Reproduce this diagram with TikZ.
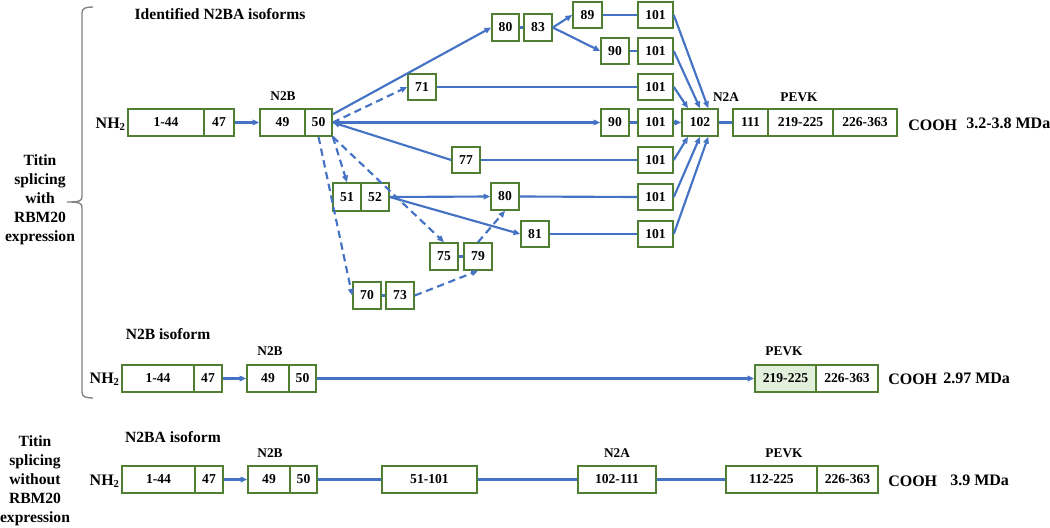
\documentclass[tikz,border=0pt]{standalone}
\usepackage{fontspec}
\setmainfont{Liberation Serif}
\usetikzlibrary{arrows.meta}
\definecolor{lblue}{HTML}{4472C4}
\definecolor{bgreen}{HTML}{507E32}
\definecolor{lgreen}{HTML}{E2EFDA}
\definecolor{brgray}{HTML}{808080}
\newcommand\exbox[7][]{\node[box,#1,minimum width={(#4-#3)*0.75pt},minimum height={(#6-#5)*0.75pt}] (#2) at ({(#3+#4)/2},{(#5+#6)/2}) {#7};}
\tikzset{
  box/.style={draw=bgreen,line width=1.2pt,fill=white,inner sep=0pt,font=\fontsize{10.2}{12}\selectfont\bfseries},
  conn/.style={draw=lblue,line width=1.6pt},
  arr/.style={conn,-{Triangle[length=5pt,width=4.2pt]}},
  rarr/.style={conn,{Triangle[length=5pt,width=4.2pt]}-},
  darr/.style={arr,dash pattern=on 5.5pt off 3.5pt},
  lbl/.style={font=\fontsize{10}{12}\selectfont\bfseries,inner sep=0pt},
  head/.style={font=\fontsize{11.7}{13}\selectfont\bfseries,inner sep=0pt},
  big/.style={font=\fontsize{12}{14}\selectfont\bfseries,inner sep=0pt},
  side/.style={font=\fontsize{11.7}{14.25}\selectfont\bfseries,align=center,inner sep=0pt}
}
\begin{document}
\begin{tikzpicture}[x=0.75pt,y=-0.75pt]
\useasboundingbox (0,0) rectangle (1050,528);
% bracket
\draw[brgray,line width=1pt] (93,7) .. controls (86,7) and (82,8) .. (82,13) -- (82,197)
  .. controls (82,201) and (79,202) .. (67,202) .. controls (79,202) and (82,203) .. (82,207)
  -- (82,392) .. controls (82,397) and (86,398) .. (93,398);
\node[side] (sideA) at (40,200) {Titin\\splicing\\with\\RBM20\\expression};
\node[side] (sideB) at (35,481) {Titin\\splicing\\without\\RBM20\\expression};
% ---------- top section
\node[head] (hA) at (220,14) {Identified N2BA isoforms};
\node[big,anchor=east] (nhA) at (126,124) {NH\textsubscript{2}};
\exbox{a144}{128}{204}{109}{136}{1-44}
\exbox{a47}{204}{234}{109}{136}{47}
\exbox{a49}{260}{305}{109}{136}{49}
\exbox{a50}{305}{332}{109}{136}{50}
\node[lbl] (lN2B) at (283,96) {N2B};
\exbox{t80}{492}{519}{14}{41}{80}
\exbox{t83}{524}{552}{14}{41}{83}
\exbox{t89}{573}{602}{2}{28}{89}
\exbox{t101a}{638}{673}{2}{28}{101}
\exbox{t90}{601}{629}{38}{64}{90}
\exbox{t101b}{638}{673}{38}{64}{101}
\exbox{t71}{408}{436}{74}{100}{71}
\exbox{t101c}{638}{673}{74}{100}{101}
\exbox{m90}{601}{629}{109}{136}{90}
\exbox{m101}{638}{673}{109}{136}{101}
\exbox{t77}{452}{480}{147}{173}{77}
\exbox{t101d}{638}{673}{147}{173}{101}
\exbox{b51}{333}{361}{183}{211}{51}
\exbox{b52}{361}{389}{183}{211}{52}
\exbox{b80}{491}{519}{183}{210}{80}
\exbox{b101e}{638}{673}{184}{210}{101}
\exbox{b81}{521}{549}{221}{247}{81}
\exbox{b101f}{638}{673}{221}{247}{101}
\exbox{b75}{430}{458}{243}{270}{75}
\exbox{b79}{464}{492}{243}{270}{79}
\exbox{b70}{353}{381}{282}{309}{70}
\exbox{b73}{386}{414}{282}{309}{73}
\exbox{a102}{682}{718}{109}{136}{102}
\exbox{a111}{733}{768}{109}{136}{111}
\exbox{a219}{768}{833}{109}{136}{219-225}
\exbox{a226}{833}{897}{109}{136}{226-363}
\node[lbl] (lN2A) at (726,97) {N2A};
\node[lbl] (lPEVK) at (799,97) {PEVK};
\node[big,anchor=west] (cooA) at (908,125) {COOH};
\node[big,anchor=west] (mdA) at (966,123) {3.2-3.8 MDa};
% connectors top
\draw[arr] (a47.east) -- (a49.west);
\draw[arr] (a50.30) -- (t80.west);
\draw[conn] (t80.east) -- (t83.west);
\draw[arr] (t83.east) -- (t89.west);
\draw[arr] (t83.east) -- (t90.west);
\draw[conn] (t89.east) -- (t101a.west);
\draw[conn] (t90.east) -- (t101b.west);
\draw[darr] (a50.east) -- (t71.west);
\draw[conn] (t71.east) -- (t101c.west);
\draw[arr] (a50.east) -- (m90.west);
\draw[conn] (m90.east) -- (m101.west);
\draw[rarr] (a50.east) -- (t77.west);
\draw[conn] (t77.east) -- (t101d.west);
\draw[darr] (a50.south east) -- (b51.north);
\draw[darr] (a50.south) -- (b70.west);
\draw[darr] (a50.south east) -- (b75.north);
\draw[arr] (b52.east) -- (b80.west);
\draw[arr] (b52.east) -- (b81.west);
\draw[conn] (b80.east) -- (b101e.west);
\draw[conn] (b81.east) -- (b101f.west);
\draw[conn] (b75.east) -- (b79.west);
\draw[conn] (b70.east) -- (b73.west);
\draw[darr] (b73.east) -- (b79.south);
\draw[darr] (b79.north) -- (b80.south);
\draw[arr] (t101a.east) -- (a102.60);
\draw[arr] (t101b.east) -- (a102.north);
\draw[arr] (t101c.east) -- (a102.130);
\draw[arr] (m101.east) -- (a102.west);
\draw[arr] (t101d.east) -- (a102.230);
\draw[arr] (b101e.east) -- (a102.south);
\draw[arr] (b101f.east) -- (a102.300);
\draw[conn] (a102.east) -- (a111.west);
% ---------- N2B isoform
\node[head] (hB) at (168,334) {N2B isoform};
\node[big,anchor=east] (nhB) at (120,379) {NH\textsubscript{2}};
\exbox{c144}{122}{194}{365}{392}{1-44}
\exbox{c47}{194}{222}{365}{392}{47}
\exbox{c49}{247}{289}{365}{392}{49}
\exbox{c50}{289}{316}{365}{392}{50}
\exbox[fill=lgreen]{c219}{755}{816}{365}{392}{219-225}
\exbox{c226}{816}{878}{365}{392}{226-363}
\node[lbl] (lN2Bb) at (270,351) {N2B};
\node[lbl] (lPEVKb) at (784,351) {PEVK};
\node[big,anchor=west] (cooB) at (888,379) {COOH};
\node[big,anchor=west] (mdB) at (943,378) {2.97 MDa};
\draw[arr] (c47.east) -- (c49.west);
\draw[arr] (c50.east) -- (c219.west);
% ---------- N2BA isoform
\node[head] (hC) at (173,437) {N2BA isoform};
\node[big,anchor=east] (nhC) at (120,481) {NH\textsubscript{2}};
\exbox{d144}{122}{195}{466}{493}{1-44}
\exbox{d47}{195}{223}{466}{493}{47}
\exbox{d49}{248}{290}{466}{493}{49}
\exbox{d50}{290}{317}{466}{493}{50}
\exbox{d51}{382}{477}{466}{493}{51-101}
\exbox{d102}{578}{656}{466}{493}{102-111}
\exbox{d112}{726}{817}{466}{493}{112-225}
\exbox{d226}{817}{878}{466}{493}{226-363}
\node[lbl] (lN2Bc) at (270,453) {N2B};
\node[lbl] (lN2Ac) at (617,453) {N2A};
\node[lbl] (lPEVKc) at (784,453) {PEVK};
\node[big,anchor=west] (cooC) at (888,481) {COOH};
\node[big,anchor=west] (mdC) at (950,480) {3.9 MDa};
\draw[arr] (d47.east) -- (d49.west);
\draw[conn] (d50.east) -- (d51.west);
\draw[conn] (d51.east) -- (d102.west);
\draw[conn] (d102.east) -- (d112.west);
\end{tikzpicture}
\end{document}
